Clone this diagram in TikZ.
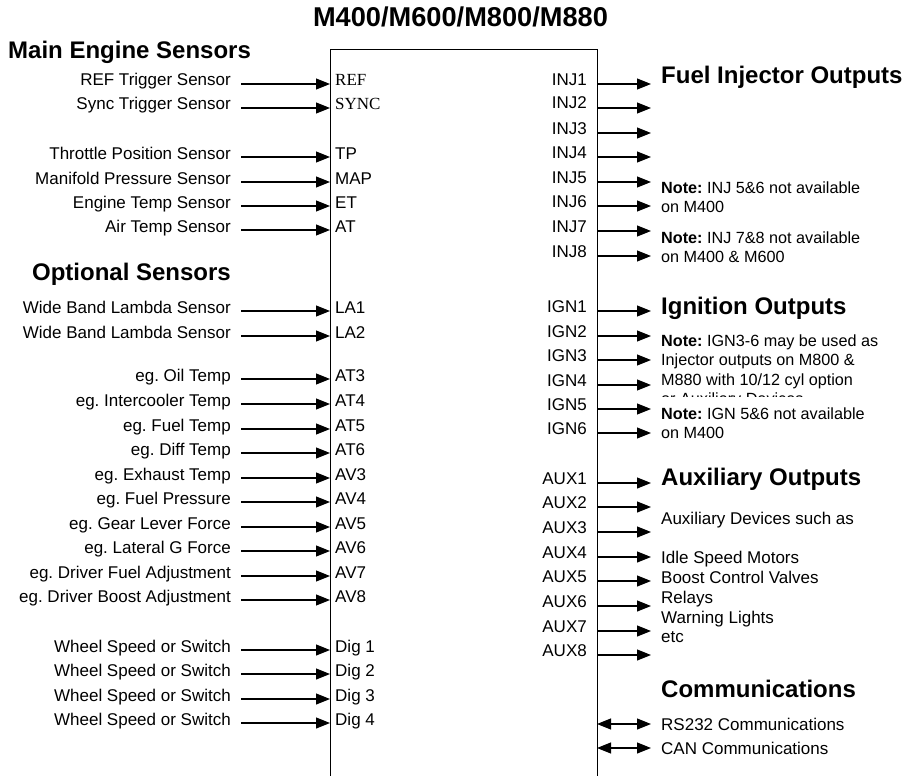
\documentclass[tikz,border=0pt]{standalone}
\usepackage{fontspec}
\setmainfont{Liberation Sans}
\newfontfamily\timesfont{Liberation Serif}
\usetikzlibrary{arrows.meta}
\frenchspacing

\begin{document}
\begin{tikzpicture}[%
    x=1pt, y=-1pt,
    sensornode/.style={anchor=base east, inner xsep=10pt, inner ysep=0pt, font=\fontsize{17}{20}\selectfont},
    pinin/.style={anchor=base west, inner xsep=5pt, inner ysep=0pt, font=\fontsize{17}{20}\selectfont},
    pinout/.style={anchor=base east, inner xsep=10pt, inner ysep=0pt, font=\fontsize{17}{20}\selectfont},
    heading/.style={anchor=base west, inner sep=0pt, font=\fontsize{24}{28}\selectfont\bfseries},
    noteline/.style={anchor=base west, inner sep=0pt, font=\fontsize{16.2}{19}\selectfont},
    textline/.style={anchor=base west, inner sep=0pt, font=\fontsize{17}{20}\selectfont},
    sig/.style={line width=1.1pt, -{Triangle[length=14pt,width=11pt]}},
    bus/.style={line width=1.1pt, {Triangle[length=14pt,width=11pt]}-{Triangle[length=14pt,width=11pt]}},
]
\useasboundingbox (0,0) rectangle (911,776);

% ECU box
\node[anchor=base, inner sep=0pt, font=\fontsize{27.2}{32}\selectfont\bfseries] (ecutitle) at (460.5,27) {M400/M600/M800/M880};
\draw[line width=1pt] (330,776) -- (330,50) -- (597,50) -- (597,776);

% Main engine sensors
\node[heading] (mainhead) at (8,59) {Main Engine Sensors};

\node[sensornode] (refsens)  at (241,86)  {REF Trigger Sensor};
\node[pinin]      (ref)      at (330,86)  {\timesfont REF};
\node[sensornode] (syncsens) at (241,110) {Sync Trigger Sensor};
\node[pinin]      (sync)     at (330,110) {\timesfont SYNC};

\node[sensornode] (tpsens)   at (241,159) {Throttle Position Sensor};
\node[pinin]      (tp)       at (330,159) {TP};
\node[sensornode] (mapsens)  at (241,184) {Manifold Pressure Sensor};
\node[pinin]      (map)      at (330,184) {MAP};
\node[sensornode] (etsens)   at (241,208) {Engine Temp Sensor};
\node[pinin]      (et)       at (330,208) {ET};
\node[sensornode] (atsens)   at (241,232) {Air Temp Sensor};
\node[pinin]      (at)       at (330,232) {AT};

% Main engine sensor Lines
\draw[sig] ([yshift=2pt]refsens.base east)  -- ([yshift=2pt]ref.base west);
\draw[sig] ([yshift=2pt]syncsens.base east) -- ([yshift=2pt]sync.base west);
\draw[sig] ([yshift=2pt]tpsens.base east)   -- ([yshift=2pt]tp.base west);
\draw[sig] ([yshift=2pt]mapsens.base east)  -- ([yshift=2pt]map.base west);
\draw[sig] ([yshift=2pt]etsens.base east)   -- ([yshift=2pt]et.base west);
\draw[sig] ([yshift=2pt]atsens.base east)   -- ([yshift=2pt]at.base west);

% Optional sensors
\node[heading, anchor=base east] (opthead) at (231,280) {Optional Sensors};

\node[sensornode] (laonesens) at (241,313) {Wide Band Lambda Sensor};
\node[pinin]      (laone)     at (330,313) {LA1};
\node[sensornode] (latwosens) at (241,338) {Wide Band Lambda Sensor};
\node[pinin]      (latwo)     at (330,338) {LA2};

\node[sensornode] (oilsens)   at (241,381) {eg. Oil Temp};
\node[pinin]      (atthree)   at (330,381) {AT3};
\node[sensornode] (icsens)    at (241,406) {eg. Intercooler Temp};
\node[pinin]      (atfour)    at (330,406) {AT4};
\node[sensornode] (fuelsens)  at (241,431) {eg. Fuel Temp};
\node[pinin]      (atfive)    at (330,431) {AT5};
\node[sensornode] (diffsens)  at (241,455) {eg. Diff Temp};
\node[pinin]      (atsix)     at (330,455) {AT6};
\node[sensornode] (exhsens)   at (241,480) {eg. Exhaust Temp};
\node[pinin]      (avthree)   at (330,480) {AV3};
\node[sensornode] (fpsens)    at (241,504) {eg. Fuel Pressure};
\node[pinin]      (avfour)    at (330,504) {AV4};
\node[sensornode] (gearsens)  at (241,529) {eg. Gear Lever Force};
\node[pinin]      (avfive)    at (330,529) {AV5};
\node[sensornode] (latsens)   at (241,553) {eg. Lateral G Force};
\node[pinin]      (avsix)     at (330,553) {AV6};
\node[sensornode] (dfasens)   at (241,578) {eg. Driver Fuel Adjustment};
\node[pinin]      (avseven)   at (330,578) {AV7};
\node[sensornode] (dbasens)   at (241,602) {eg. Driver Boost Adjustment};
\node[pinin]      (aveight)   at (330,602) {AV8};

\node[sensornode] (wsone)     at (241,652) {Wheel Speed or Switch};
\node[pinin]      (digone)    at (330,652) {Dig 1};
\node[sensornode] (wstwo)     at (241,676) {Wheel Speed or Switch};
\node[pinin]      (digtwo)    at (330,676) {Dig 2};
\node[sensornode] (wsthree)   at (241,701) {Wheel Speed or Switch};
\node[pinin]      (digthree)  at (330,701) {Dig 3};
\node[sensornode] (wsfour)    at (241,725) {Wheel Speed or Switch};
\node[pinin]      (digfour)   at (330,725) {Dig 4};

% Optional sensor Lines
\draw[sig] ([yshift=2pt]laonesens.base east) -- ([yshift=2pt]laone.base west);
\draw[sig] ([yshift=2pt]latwosens.base east) -- ([yshift=2pt]latwo.base west);
\draw[sig] ([yshift=2pt]oilsens.base east)   -- ([yshift=2pt]atthree.base west);
\draw[sig] ([yshift=2pt]icsens.base east)    -- ([yshift=2pt]atfour.base west);
\draw[sig] ([yshift=2pt]fuelsens.base east)  -- ([yshift=2pt]atfive.base west);
\draw[sig] ([yshift=2pt]diffsens.base east)  -- ([yshift=2pt]atsix.base west);
\draw[sig] ([yshift=2pt]exhsens.base east)   -- ([yshift=2pt]avthree.base west);
\draw[sig] ([yshift=2pt]fpsens.base east)    -- ([yshift=2pt]avfour.base west);
\draw[sig] ([yshift=2pt]gearsens.base east)  -- ([yshift=2pt]avfive.base west);
\draw[sig] ([yshift=2pt]latsens.base east)   -- ([yshift=2pt]avsix.base west);
\draw[sig] ([yshift=2pt]dfasens.base east)   -- ([yshift=2pt]avseven.base west);
\draw[sig] ([yshift=2pt]dbasens.base east)   -- ([yshift=2pt]aveight.base west);
\draw[sig] ([yshift=2pt]wsone.base east)     -- ([yshift=2pt]digone.base west);
\draw[sig] ([yshift=2pt]wstwo.base east)     -- ([yshift=2pt]digtwo.base west);
\draw[sig] ([yshift=2pt]wsthree.base east)   -- ([yshift=2pt]digthree.base west);
\draw[sig] ([yshift=2pt]wsfour.base east)    -- ([yshift=2pt]digfour.base west);

% Injector outputs
\node[pinout] (injone)   at (597,85)  {INJ1};
\node[pinout] (injtwo)   at (597,109) {INJ2};
\node[pinout] (injthree) at (597,134) {INJ3};
\node[pinout] (injfour)  at (597,158) {INJ4};
\node[pinout] (injfive)  at (597,183) {INJ5};
\node[pinout] (injsix)   at (597,207) {INJ6};
\node[pinout] (injseven) at (597,232) {INJ7};
\node[pinout] (injeight) at (597,257) {INJ8};

\node[heading]  (injhead) at (661,84) {Fuel Injector Outputs};
\node[noteline] (injnoteA)  at (661,193.3) {\textbf{Note:} INJ 5\&6 not available};
\node[noteline] (injnoteAb) at (661,212.7) {on M400};
\node[noteline] (injnoteB)  at (661,243.3) {\textbf{Note:} INJ 7\&8 not available};
\node[noteline] (injnoteBb) at (661,262.3) {on M400 \& M600};

% Injector Lines
\draw[sig] ([yshift=1pt]injone.base east)   -- ++(54,0);
\draw[sig] ([yshift=1pt]injtwo.base east)   -- ++(54,0);
\draw[sig] ([yshift=1pt]injthree.base east) -- ++(54,0);
\draw[sig] ([yshift=1pt]injfour.base east)  -- ++(54,0);
\draw[sig] ([yshift=1pt]injfive.base east)  -- ++(54,0);
\draw[sig] ([yshift=1pt]injsix.base east)   -- ++(54,0);
\draw[sig] ([yshift=1pt]injseven.base east) -- ++(54,0);
\draw[sig] ([yshift=1pt]injeight.base east) -- ++(54,0);

% Ignition outputs
\node[pinout] (ignone)   at (597,312) {IGN1};
\node[pinout] (igntwo)   at (597,337) {IGN2};
\node[pinout] (ignthree) at (597,361) {IGN3};
\node[pinout] (ignfour)  at (597,386) {IGN4};
\node[pinout] (ignfive)  at (597,410) {IGN5};
\node[pinout] (ignsix)   at (597,434) {IGN6};

\node[heading]  (ignhead) at (661,314) {Ignition Outputs};
\node[noteline] (ignnoteA)  at (661,346.7) {\textbf{Note:} IGN3-6 may be used as};
\node[noteline] (ignnoteAb) at (661,365.7) {Injector outputs on M800 \&};
\node[noteline] (ignnoteAc) at (661,385)   {M880 with 10/12 cyl option};
\begin{scope}
  \clip (650,380) rectangle (911,396.5);
  \node[noteline] (ignnoteAd) at (661,404.3) {or Auxiliary Devices};
\end{scope}
\node[noteline] (ignnoteB)  at (661,419.3) {\textbf{Note:} IGN 5\&6 not available};
\node[noteline] (ignnoteBb) at (661,438.5) {on M400};

% Ignition Lines
\draw[sig] ([yshift=1pt]ignone.base east)   -- ++(54,0);
\draw[sig] ([yshift=1pt]igntwo.base east)   -- ++(54,0);
\draw[sig] ([yshift=1pt]ignthree.base east) -- ++(54,0);
\draw[sig] ([yshift=1pt]ignfour.base east)  -- ++(54,0);
\draw[sig] ([yshift=1pt]ignfive.base east)  -- ++(54,0);
\draw[sig] ([yshift=1pt]ignsix.base east)   -- ++(54,0);

% Auxiliary outputs
\node[pinout] (auxone)   at (597,484) {AUX1};
\node[pinout] (auxtwo)   at (597,508) {AUX2};
\node[pinout] (auxthree) at (597,533) {AUX3};
\node[pinout] (auxfour)  at (597,558) {AUX4};
\node[pinout] (auxfive)  at (597,582) {AUX5};
\node[pinout] (auxsix)   at (597,607) {AUX6};
\node[pinout] (auxseven) at (597,632) {AUX7};
\node[pinout] (auxeight) at (597,656) {AUX8};

\node[heading]  (auxhead) at (661,485) {Auxiliary Outputs};
\node[textline] (auxtext)  at (661,524)   {Auxiliary Devices such as};
\node[textline] (auxisc)   at (661,563.3) {Idle Speed Motors};
\node[textline] (auxboost) at (661,583.3) {Boost Control Valves};
\node[textline] (auxrelay) at (661,603.3) {Relays};
\node[textline] (auxwarn)  at (661,623.3) {Warning Lights};
\node[textline] (auxetc)   at (661,642.7) {etc};

% Auxiliary Lines
\draw[sig] ([yshift=1pt]auxone.base east)   -- ++(54,0);
\draw[sig] ([yshift=1pt]auxtwo.base east)   -- ++(54,0);
\draw[sig] ([yshift=1pt]auxthree.base east) -- ++(54,0);
\draw[sig] ([yshift=1pt]auxfour.base east)  -- ++(54,0);
\draw[sig] ([yshift=1pt]auxfive.base east)  -- ++(54,0);
\draw[sig] ([yshift=1pt]auxsix.base east)   -- ++(54,0);
\draw[sig] ([yshift=1pt]auxseven.base east) -- ++(54,0);
\draw[sig] ([yshift=1pt]auxeight.base east) -- ++(54,0);

% Communications
\node[heading]  (comhead) at (661,697) {Communications};
\coordinate (rsport)  at (597,724);
\coordinate (canport) at (597,748);
\node[textline] (rstext)  at (661,730) {RS232 Communications};
\node[textline] (cantext) at (661,754.5) {CAN Communications};
\draw[bus] (rsport)  -- ++(54,0);
\draw[bus] (canport) -- ++(54,0);

\end{tikzpicture}
\end{document}
